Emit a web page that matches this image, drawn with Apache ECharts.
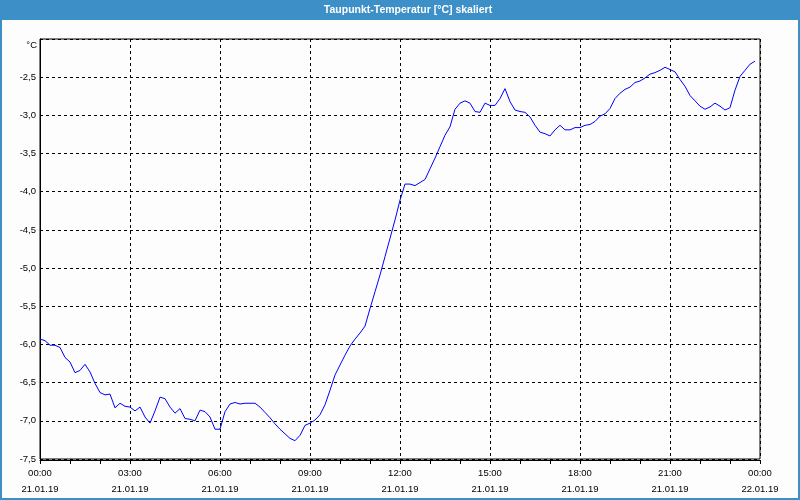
<!DOCTYPE html>
<html><head><meta charset="utf-8">
<script src="https://cdn.jsdelivr.net/npm/echarts@6/dist/echarts.min.js"></script>
<style>html,body{margin:0;padding:0;background:#fcfdfc}#c{width:800px;height:500px}</style>
</head><body><div id="c"></div>
<script>
const chartTitle = 'Taupunkt-Temperatur [°C] skaliert';
const unitLabel = '°C';
const stepMinutes = 10;
const dewPoint = [
  -5.93,-5.95,-6.01,-6.01,-6.04,-6.17,-6.23,-6.37,-6.34,-6.26,-6.36,-6.51,-6.63,-6.66,-6.65,-6.83,-6.77,-6.81,-6.82,-6.87,
  -6.82,-6.95,-7.03,-6.87,-6.69,-6.71,-6.82,-6.90,-6.84,-6.97,-6.98,-7.00,-6.86,-6.88,-6.95,-7.11,-7.11,
  -6.88,-6.78,-6.76,-6.78,-6.77,-6.77,-6.77,-6.82,-6.89,-6.96,-7.04,-7.11,-7.17,-7.23,-7.26,-7.19,-7.06,-7.03,-6.99,-6.92,
  -6.79,-6.60,-6.40,-6.27,-6.14,-6.02,-5.93,-5.85,-5.76,-5.53,-5.31,-5.09,-4.85,-4.61,-4.37,-4.11,
  -3.90,-3.90,-3.92,-3.88,-3.84,-3.70,-3.56,-3.41,-3.26,-3.15,-2.92,-2.84,-2.81,-2.84,-2.95,-2.96,-2.84,-2.87,-2.87,-2.78,
  -2.65,-2.82,-2.93,-2.95,-2.96,-3.02,-3.13,-3.22,-3.24,-3.27,-3.19,-3.13,-3.19,-3.19,-3.16,-3.16,
  -3.13,-3.12,-3.08,-3.01,-2.98,-2.91,-2.78,-2.71,-2.66,-2.63,-2.57,-2.55,-2.51,-2.46,-2.44,-2.41,-2.37,-2.40,-2.43,-2.53,
  -2.62,-2.74,-2.81,-2.88,-2.92,-2.89,-2.84,-2.88,-2.93,-2.90,-2.67,-2.49,-2.41,-2.33,-2.29
];
const xTickLabels = [
  '00:00\n21.01.19','03:00\n21.01.19','06:00\n21.01.19','09:00\n21.01.19','12:00\n21.01.19',
  '15:00\n21.01.19','18:00\n21.01.19','21:00\n21.01.19','00:00\n22.01.19'
];
const yMin = -7.5, yMax = -2.0, yStep = 0.5;

const font = 'Liberation Sans, Arial, sans-serif';
const blue = '#3d8fc7';
const seriesData = dewPoint.map((v, i) => [i * stepMinutes, v]);

const chart = echarts.init(document.getElementById('c'), null, {renderer: 'canvas'});
chart.setOption({
  animation: false,
  backgroundColor: '#fcfdfc',
  grid: {left: 40, right: 40, top: 39, bottom: 41, show: true, borderColor: '#000', borderWidth: 1, backgroundColor: 'transparent'},
  xAxis: [
    {
      type: 'value', min: 0, max: 1440, interval: 180, position: 'bottom',
      axisLine: {show: false}, axisTick: {show: false},
      axisLabel: {
        formatter: v => xTickLabels[Math.round(v / 180)] || '',
        fontFamily: font, fontSize: 9.5, lineHeight: 16, margin: 6, color: '#000'
      },
      splitLine: {show: true, lineStyle: {color: '#000', type: [3, 3], width: 1}}
    },
    {
      type: 'value', min: 0, max: 1440, interval: 60, position: 'bottom', offset: 1,
      axisLine: {show: true, lineStyle: {color: '#000', width: 1}},
      axisTick: {show: true, length: 4, lineStyle: {color: '#000'}},
      axisLabel: {show: false}, splitLine: {show: false}
    }
  ],
  yAxis: {
    type: 'value', min: yMin, max: yMax, interval: yStep,
    axisLine: {show: true, lineStyle: {color: '#000', width: 1}},
    axisTick: {show: false},
    axisLabel: {
      formatter: v => Math.abs(v - yMax) < 1e-6 ? '' : v.toFixed(1).replace('.', ','),
      fontFamily: font, fontSize: 9.5, margin: 4, color: '#000'
    },
    splitLine: {show: true, lineStyle: {color: '#000', type: [3, 3], width: 1}}
  },
  series: [{
    type: 'line', xAxisIndex: 0, data: seriesData, showSymbol: false, symbol: 'none',
    lineStyle: {color: '#0000ff', width: 1}, z: 5
  }],
  graphic: [
    {type: 'rect', shape: {x: 0, y: 0, width: 800, height: 20}, style: {fill: blue}, z: 10},
    {type: 'rect', shape: {x: 1, y: 1, width: 798, height: 498}, style: {fill: 'none', stroke: blue, lineWidth: 2}, z: 10},
    {type: 'text', x: 408, y: 10, style: {text: chartTitle, fill: '#fff', font: 'bold 10.5px ' + font, align: 'center', verticalAlign: 'middle'}, z: 11},
    {type: 'text', x: 37, y: 45, style: {text: unitLabel, fill: '#000', font: '9.5px ' + font, align: 'right', verticalAlign: 'middle'}, z: 11}
  ]
});
</script>
</body></html>
